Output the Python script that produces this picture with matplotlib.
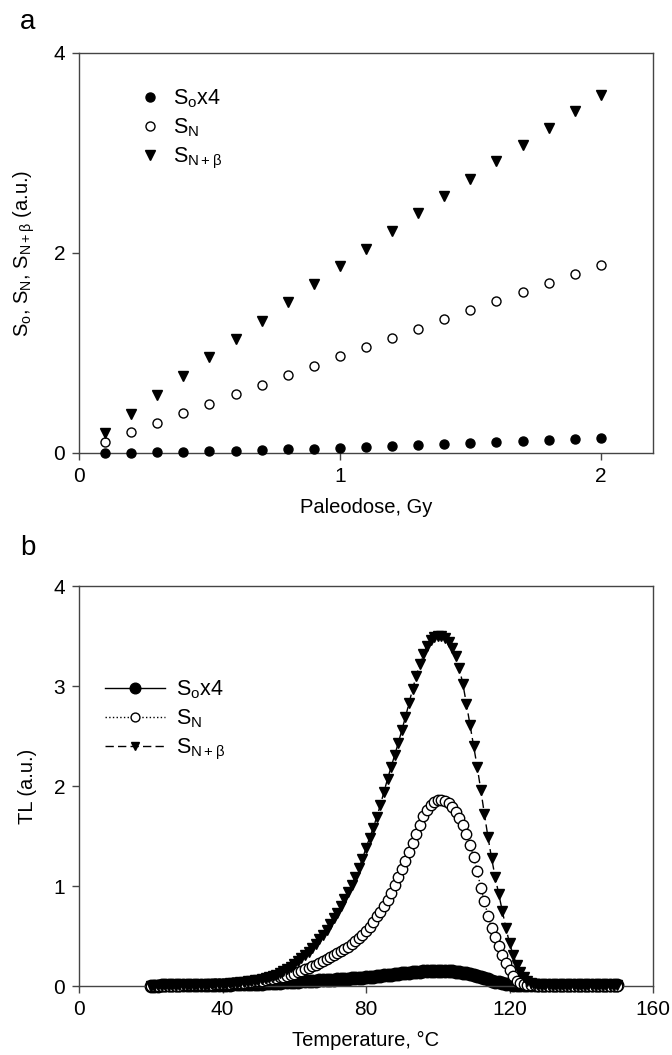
import matplotlib
matplotlib.use("Agg")
import matplotlib.pyplot as plt
import numpy as np

plt.rcParams["font.family"] = ["Liberation Sans", "DejaVu Sans"]
plt.rcParams["mathtext.fontset"] = "custom"
plt.rcParams["mathtext.rm"] = "Liberation Sans"
plt.rcParams["mathtext.it"] = "Liberation Sans:italic"

# --- panel a: signal vs paleodose ---
dose = [0.1, 0.2, 0.3, 0.4, 0.5, 0.6, 0.7, 0.8, 0.9, 1.0,
        1.1, 1.2, 1.3, 1.4, 1.5, 1.6, 1.7, 1.8, 1.9, 2.0]
s_o4 = [0.002, 0.004, 0.007, 0.011, 0.016, 0.022, 0.029, 0.036, 0.045, 0.054,
        0.063, 0.072, 0.081, 0.090, 0.100, 0.109, 0.119, 0.129, 0.140, 0.155]
s_n = [0.11, 0.21, 0.30, 0.40, 0.49, 0.59, 0.68, 0.78, 0.87, 0.97,
       1.06, 1.15, 1.24, 1.34, 1.43, 1.52, 1.61, 1.70, 1.79, 1.88]
s_nb = [0.20, 0.39, 0.58, 0.77, 0.96, 1.14, 1.32, 1.51, 1.69, 1.87,
        2.04, 2.22, 2.40, 2.57, 2.74, 2.92, 3.08, 3.25, 3.42, 3.58]

# --- panel b: glow curves, 1 degC steps from 20 to 150 ---
temp = np.arange(20, 151)
tl_o4 = [
    0.005, 0.005, 0.005, 0.006, 0.006, 0.006, 0.007, 0.007, 0.007, 0.008,
    0.008, 0.008, 0.009, 0.009, 0.010, 0.010, 0.011, 0.011, 0.012, 0.012,
    0.013, 0.014, 0.015, 0.016, 0.017, 0.018, 0.019, 0.020, 0.021, 0.022,
    0.023, 0.025, 0.027, 0.029, 0.031, 0.033, 0.035, 0.037, 0.039, 0.041,
    0.043, 0.045, 0.047, 0.049, 0.051, 0.053, 0.055, 0.057, 0.059, 0.061,
    0.063, 0.065, 0.067, 0.069, 0.071, 0.073, 0.076, 0.079, 0.082, 0.085,
    0.088, 0.091, 0.095, 0.099, 0.103, 0.107, 0.111, 0.115, 0.119, 0.123,
    0.127, 0.131, 0.135, 0.139, 0.142, 0.145, 0.148, 0.150, 0.152, 0.153,
    0.154, 0.154, 0.153, 0.151, 0.148, 0.144, 0.139, 0.133, 0.126, 0.118,
    0.109, 0.099, 0.088, 0.077, 0.066, 0.055, 0.045, 0.036, 0.028, 0.022,
    0.017, 0.014, 0.012, 0.011, 0.010, 0.010, 0.010, 0.010, 0.010, 0.010,
    0.010, 0.010, 0.010, 0.010, 0.010, 0.010, 0.010, 0.010, 0.010, 0.010,
    0.010, 0.010, 0.010, 0.010, 0.010, 0.010, 0.010, 0.010, 0.010, 0.010,
    0.010,
]
tl_n = [
    0.003, 0.003, 0.003, 0.004, 0.004, 0.004, 0.005, 0.005, 0.005, 0.006,
    0.007, 0.008, 0.009, 0.010, 0.011, 0.012, 0.013, 0.014, 0.016, 0.018,
    0.020, 0.022, 0.024, 0.026, 0.029, 0.032, 0.035, 0.039, 0.043, 0.047,
    0.050, 0.055, 0.060, 0.066, 0.073, 0.080, 0.087, 0.094, 0.102, 0.111,
    0.125, 0.138, 0.152, 0.167, 0.183, 0.200, 0.215, 0.230, 0.250, 0.270,
    0.290, 0.310, 0.330, 0.350, 0.370, 0.395, 0.420, 0.450, 0.480, 0.515,
    0.550, 0.595, 0.645, 0.700, 0.745, 0.800, 0.860, 0.930, 1.010, 1.090,
    1.170, 1.250, 1.340, 1.430, 1.520, 1.610, 1.700, 1.760, 1.810, 1.840,
    1.860, 1.860, 1.850, 1.830, 1.790, 1.740, 1.680, 1.610, 1.520, 1.410,
    1.290, 1.150, 0.980, 0.850, 0.700, 0.580, 0.490, 0.400, 0.310, 0.230,
    0.160, 0.100, 0.055, 0.030, 0.018, 0.012, 0.008, 0.006, 0.005, 0.004,
    0.004, 0.004, 0.004, 0.004, 0.004, 0.004, 0.004, 0.004, 0.004, 0.004,
    0.004, 0.004, 0.004, 0.004, 0.004, 0.004, 0.004, 0.004, 0.004, 0.004,
    0.004,
]
tl_nb = [
    0.005, 0.005, 0.006, 0.006, 0.006, 0.007, 0.007, 0.008, 0.008, 0.009,
    0.009, 0.010, 0.011, 0.012, 0.013, 0.014, 0.015, 0.017, 0.019, 0.021,
    0.022, 0.024, 0.027, 0.030, 0.033, 0.037, 0.041, 0.046, 0.052, 0.058,
    0.065, 0.073, 0.082, 0.092, 0.103, 0.115, 0.130, 0.148, 0.170, 0.195,
    0.220, 0.250, 0.280, 0.310, 0.340, 0.380, 0.420, 0.470, 0.510, 0.560,
    0.620, 0.680, 0.730, 0.800, 0.870, 0.940, 1.010, 1.090, 1.180, 1.270,
    1.380, 1.480, 1.580, 1.690, 1.810, 1.940, 2.070, 2.190, 2.310, 2.430,
    2.560, 2.690, 2.830, 2.970, 3.100, 3.220, 3.320, 3.400, 3.460, 3.490,
    3.500, 3.500, 3.480, 3.440, 3.380, 3.300, 3.180, 3.020, 2.820, 2.610,
    2.400, 2.190, 1.960, 1.720, 1.490, 1.280, 1.090, 0.920, 0.750, 0.580,
    0.430, 0.310, 0.210, 0.140, 0.090, 0.050, 0.030, 0.020, 0.015, 0.012,
    0.010, 0.010, 0.010, 0.010, 0.010, 0.010, 0.010, 0.010, 0.010, 0.010,
    0.010, 0.010, 0.010, 0.010, 0.010, 0.010, 0.010, 0.010, 0.010, 0.010,
    0.010,
]

lbl_o = r"S$_\mathrm{o}$x4"
lbl_n = r"S$_\mathrm{N}$"
lbl_nb = r"S$_\mathrm{N+β}$"

FS_TICK = 15
FS_LAB = 14.5
FS_LEG = 15.5
SPINE = "#444444"

fig = plt.figure(figsize=(6.72, 10.55), dpi=100)
ax1 = fig.add_axes([79 / 672, 1 - 453 / 1055, 574 / 672, 400 / 1055])
ax2 = fig.add_axes([79 / 672, 1 - 986 / 1055, 574 / 672, 400 / 1055])


def style(ax):
    for sp in ax.spines.values():
        sp.set_color(SPINE)
        sp.set_linewidth(1.0)
    ax.tick_params(direction="out", length=5, width=1, color=SPINE,
                   labelsize=FS_TICK, top=False, right=False, pad=5)


# panel a
ax1.plot(dose, s_o4, "o", color="black", ms=6.5, ls="none", label=lbl_o, clip_on=False, zorder=3)
ax1.plot(dose, s_n, "o", mfc="white", mec="black", mew=1.0, ms=6.5, ls="none", label=lbl_n,
         clip_on=False, zorder=3)
ax1.plot(dose, s_nb, "v", color="black", ms=6.5, ls="none", label=lbl_nb, clip_on=False, zorder=3)
ax1.set_xlim(0, 2.2)
ax1.set_ylim(0, 4)
ax1.set_xticks([0, 1, 2])
ax1.set_yticks([0, 2, 4])
ax1.set_xlabel("Paleodose, Gy", fontsize=FS_LAB, labelpad=9)
ax1.set_ylabel(r"S$_\mathrm{o}$, S$_\mathrm{N}$, S$_\mathrm{N+β}$ (a.u.)", fontsize=FS_LAB, labelpad=12)
style(ax1)
ax1.legend(loc="upper left", bbox_to_anchor=(0.09, 0.935), frameon=False, fontsize=FS_LEG,
           handlelength=1.0, handletextpad=0.55, labelspacing=0.3, borderaxespad=0)

# panel b
ax2.plot(temp, tl_o4, "-o", color="black", lw=1.0, ms=9, label=lbl_o, clip_on=False, zorder=2)
ax2.plot(temp, tl_n, ":o", color="black", lw=1.0, mfc="white", mec="black", mew=1.0, ms=7.5,
         label=lbl_n, clip_on=False, zorder=3)
ax2.plot(temp, tl_nb, "--v", color="black", lw=1.0, ms=7.5, dashes=(6, 3),
         label=lbl_nb, clip_on=False, zorder=4)
ax2.set_xlim(0, 160)
ax2.set_ylim(0, 4)
ax2.set_xticks([0, 40, 80, 120, 160])
ax2.set_yticks([0, 1, 2, 3, 4])
ax2.set_xlabel("Temperature, °C", fontsize=FS_LAB, labelpad=9)
ax2.set_ylabel("TL (a.u.)", fontsize=FS_LAB, labelpad=12)
style(ax2)
leg = ax2.legend(loc="upper left", bbox_to_anchor=(0.03, 0.79), frameon=False, fontsize=FS_LEG,
                 handlelength=2.8, handletextpad=0.5, labelspacing=0.3, borderaxespad=0,
                 markerscale=0.85)

fig.text(20 / 672, 1 - 22 / 1055, "a", fontsize=20, va="center", ha="left")
fig.text(20 / 672, 1 - 548 / 1055, "b", fontsize=20, va="center", ha="left")

fig.savefig("out.png", dpi=100)
